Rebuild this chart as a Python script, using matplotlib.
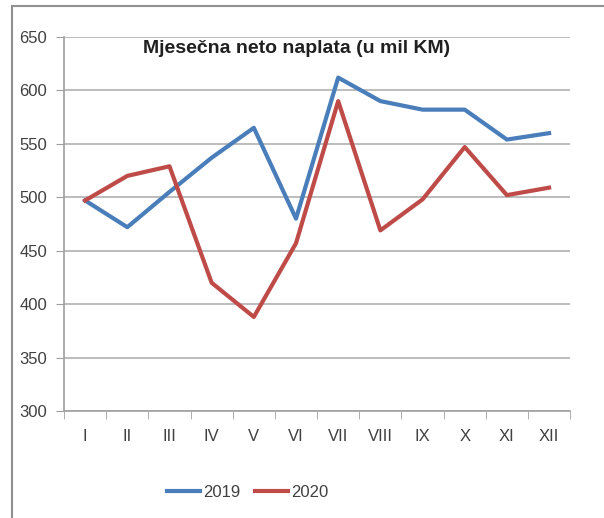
import matplotlib
matplotlib.use('Agg')
from matplotlib import pyplot as plt
from matplotlib.lines import Line2D

months = ['I', 'II', 'III', 'IV', 'V', 'VI', 'VII', 'VIII', 'IX', 'X', 'XI', 'XII']
naplata_2019 = [497, 472, 505, 537, 565, 480, 612, 590, 582, 582, 554, 560]
naplata_2020 = [497, 520, 529, 420, 388, 457, 590, 469, 498, 547, 502, 509]
y_ticks = [300, 350, 400, 450, 500, 550, 600, 650]

plt.rcParams['font.family'] = ['Liberation Sans', 'DejaVu Sans']

fig = plt.figure(figsize=(6.04, 5.18), dpi=100)
ax = fig.add_axes([0.106, 0.2066, 0.838, 0.722])

x = range(len(months))
ax.plot(x, naplata_2019, color='#4a7ebb', lw=3, label='2019', solid_joinstyle='round')
ax.plot(x, naplata_2020, color='#be4b48', lw=3, label='2020', solid_joinstyle='round')

ax.set_xlim(-0.5, len(months) - 0.5)
ax.set_ylim(300, 650)
ax.set_yticks(y_ticks)
ax.set_xticks(list(x))
ax.set_xticklabels(months)
ax.set_xticks([i - 0.5 for i in range(len(months) + 1)], minor=True)
ax.grid(axis='y', color='#b0b0b0', lw=1.2)
ax.set_axisbelow(True)

for s in ['top', 'right']:
    ax.spines[s].set_visible(False)
for s in ['left', 'bottom']:
    ax.spines[s].set_color('#a0a0a0')
    ax.spines[s].set_linewidth(1.2)

ax.tick_params(axis='y', length=6, color='#a0a0a0', labelsize=12, labelcolor='#404040', pad=6)
ax.tick_params(axis='x', which='major', length=0, labelsize=12, labelcolor='#404040', pad=13)
ax.tick_params(axis='x', which='minor', length=6, color='#a0a0a0')

ax.text(0.46, 0.97, 'Mjesečna neto naplata (u mil KM)', transform=ax.transAxes,
        ha='center', va='center', fontsize=14, fontweight='bold', color='#202020')

handles = [Line2D([], [], color='#4a7ebb', lw=3), Line2D([], [], color='#be4b48', lw=3)]
fig.legend(handles, ['2019', '2020'], loc='center', bbox_to_anchor=(0.41, 0.05), ncol=2,
           frameon=False, fontsize=12, handlelength=2.0, handletextpad=0.15, columnspacing=0.9,
           labelcolor='#404040')

# frame of the scanned page
fig.add_artist(Line2D([12 / 604, 1], [1 - 6 / 518, 1 - 6 / 518], transform=fig.transFigure,
                      color='#909090', lw=1.5))
fig.add_artist(Line2D([12 / 604, 12 / 604], [0, 1 - 6 / 518], transform=fig.transFigure,
                      color='#909090', lw=1.5))

fig.savefig('out.png', dpi=100)
